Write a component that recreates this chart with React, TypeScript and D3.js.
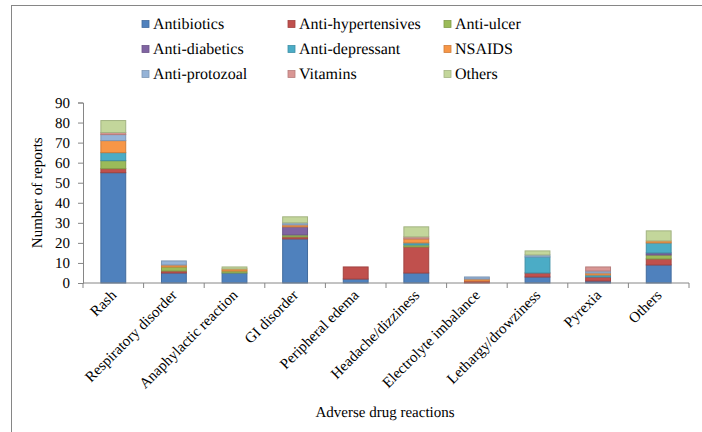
import { useEffect, useRef } from 'react';
import * as d3 from 'd3';

const categories = [
  'Rash', 'Respiratory disorder', 'Anaphylactic reaction', 'GI disorder', 'Peripheral edema',
  'Headache/dizziness', 'Electrolyte imbalance', 'Lethargy/drowziness', 'Pyrexia', 'Others',
];

const seriesNames = [
  'Antibiotics', 'Anti-hypertensives', 'Anti-ulcer', 'Anti-diabetics', 'Anti-depressant',
  'NSAIDS', 'Anti-protozoal', 'Vitamins', 'Others',
];

const colors = ['#4F81BD', '#C0504D', '#9BBB59', '#8064A2', '#4BACC6', '#F79646', '#95B3D7', '#D99694', '#C3D69B'];

// one array per drug class, one value per reaction
const antibiotics = [55, 5, 5, 22, 2, 5, 0, 3, 1, 9];
const antiHypertensives = [2, 1, 0, 1, 6, 13, 1, 2, 2, 3];
const antiUlcer = [4, 2, 1, 1, 0, 1, 0, 0, 0, 2];
const antiDiabetics = [0, 0, 0, 4, 0, 0, 0, 0, 0, 1];
const antiDepressant = [4, 0, 0, 0, 0, 1, 0, 8, 1, 5];
const nsaids = [6, 1, 1, 1, 0, 2, 1, 0, 1, 1];
const antiProtozoal = [3, 2, 0, 1, 0, 0, 1, 1, 1, 0];
const vitamins = [1, 0, 0, 0, 0, 1, 0, 0, 2, 0];
const others = [6, 0, 1, 3, 0, 5, 0, 2, 0, 5];

const yTicks = [0, 10, 20, 30, 40, 50, 60, 70, 80, 90];

const seriesValues = [antibiotics, antiHypertensives, antiUlcer, antiDiabetics, antiDepressant, nsaids, antiProtozoal, vitamins, others];

const FONT = "'Liberation Serif', 'Times New Roman', serif";

const App = () => {
  const ref = useRef<SVGSVGElement>(null);

  useEffect(() => {
    const svg = d3.select(ref.current);
    svg.selectAll('*').remove();
    const left = 83, right = 689, top = 102.5, bottom = 283;

    svg.append('rect')
      .attr('x', 11.5).attr('y', 5.5).attr('width', 700).attr('height', 440)
      .attr('fill', 'white').attr('stroke', '#868686').attr('stroke-width', 1);

    const x = d3.scaleBand().domain(categories).range([left, right]).paddingInner(0.59).paddingOuter(0.295);
    const xb = d3.scaleBand().domain(categories).range([left, right]);
    const y = d3.scaleLinear().domain([0, 90]).range([bottom, top]);

    const table = categories.map((c, i) => {
      const row: any = { cat: c };
      seriesNames.forEach((s, j) => { row[s] = seriesValues[j][i]; });
      return row;
    });
    const stacked = d3.stack().keys(seriesNames)(table);

    stacked.forEach((layer, j) => {
      svg.append('g')
        .selectAll('rect')
        .data(layer.filter(d => d[1] - d[0] > 0))
        .enter()
        .append('rect')
        .attr('x', d => x(d.data.cat as string)!)
        .attr('width', x.bandwidth())
        .attr('y', d => y(d[1]))
        .attr('height', d => y(d[0]) - y(d[1]))
        .attr('fill', colors[j])
        .attr('stroke', d3.color(colors[j])!.darker(0.5).toString())
        .attr('stroke-width', 1);
    });

    const axisColor = '#868686';
    // y axis
    const gy = svg.append('g').attr('transform', `translate(${left},0)`)
      .call(d3.axisLeft(y).tickValues(yTicks).tickSize(5).tickPadding(8));
    gy.attr('font-family', null);
    gy.select('.domain').attr('stroke', axisColor);
    gy.selectAll('.tick line').attr('stroke', axisColor);
    gy.selectAll('.tick text').style('font-family', FONT).attr('font-size', 15).attr('fill', '#000');

    // x axis with ticks at category boundaries
    const gx = svg.append('g');
    gx.append('line').attr('x1', left).attr('x2', right).attr('y1', bottom).attr('y2', bottom).attr('stroke', axisColor);
    const bounds = categories.map(c => xb(c)!).concat([right]);
    gx.selectAll('.bt').data(bounds).enter().append('line')
      .attr('x1', d => d).attr('x2', d => d).attr('y1', bottom).attr('y2', bottom + 5).attr('stroke', axisColor);
    gx.selectAll('text').data(categories).enter().append('text')
      .attr('transform', d => `translate(${xb(d)! + xb.bandwidth() / 2 + 4},${bottom + 13}) rotate(-45)`)
      .attr('text-anchor', 'end')
      .style('font-family', FONT).attr('font-size', 15)
      .text(d => d);

    svg.append('text')
      .attr('transform', `translate(42,${(top + bottom) / 2}) rotate(-90)`)
      .attr('text-anchor', 'middle').style('font-family', FONT).attr('font-size', 15)
      .text('Number of reports');
    svg.append('text')
      .attr('x', 385).attr('y', 417)
      .attr('text-anchor', 'middle').style('font-family', FONT).attr('font-size', 15)
      .text('Adverse drug reactions');

    // legend: 3 columns x 3 rows
    const colX = [142, 288, 444];
    const rowY = [24, 49, 74];
    seriesNames.forEach((s, i) => {
      const g = svg.append('g').attr('transform', `translate(${colX[i % 3]},${rowY[Math.floor(i / 3)]})`);
      g.append('rect').attr('x', 0).attr('y', -3.5).attr('width', 7).attr('height', 7)
        .attr('fill', colors[i]).attr('stroke', d3.color(colors[i])!.darker(0.5).toString()).attr('stroke-width', 0.8);
      g.append('text').attr('x', 11).attr('y', 5).style('font-family', FONT).attr('font-size', 16).text(s);
    });
  }, []);

  return (
    <div style={{ position: 'absolute', left: 0, top: 0 }}>
      <svg ref={ref} width={702} height={432} style={{ display: 'block', textRendering: 'geometricPrecision' }} />
    </div>
  );
};

export default App;
